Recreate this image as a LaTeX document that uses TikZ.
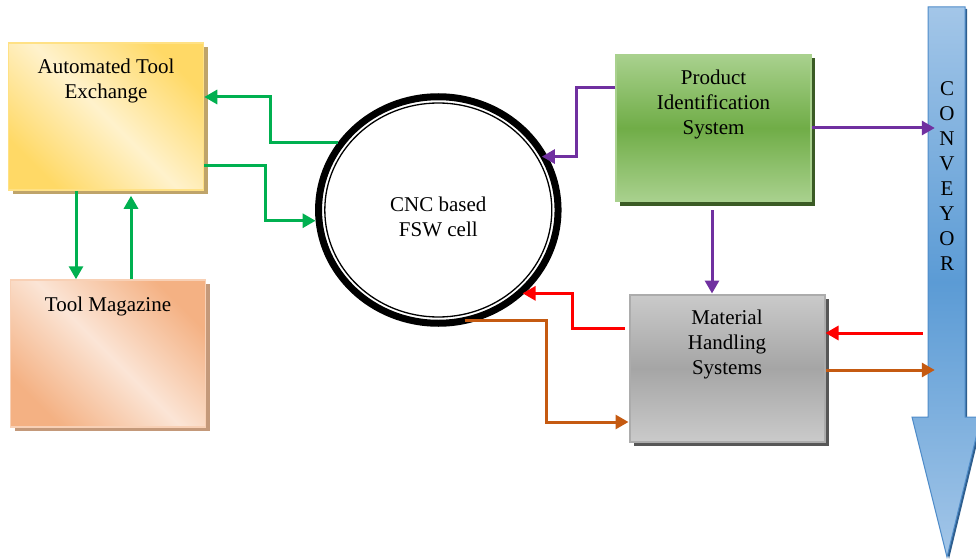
\documentclass[tikz,border=0pt]{standalone}
\usepackage{xcolor}
\usepackage{fontspec}
\setmainfont{Liberation Serif}
\usepackage{tikz}
\usetikzlibrary{arrows.meta,shadows,shapes.geometric,positioning}

\definecolor{atedark}{HTML}{FFD966}
\definecolor{atelight}{HTML}{FFF2CC}
\definecolor{ateshadow}{HTML}{BFA46A}
\definecolor{magdark}{HTML}{F4B183}
\definecolor{maglight}{HTML}{FBE5D6}
\definecolor{magshadow}{HTML}{C4997A}
\definecolor{pislight}{HTML}{A9D18E}
\definecolor{pisdark}{HTML}{70AD47}
\definecolor{pisshadow}{HTML}{3B5B25}
\definecolor{mhslight}{HTML}{CACACA}
\definecolor{mhsdark}{HTML}{A5A5A5}
\definecolor{mhsshadow}{HTML}{575757}
\definecolor{convlight}{HTML}{A3C6E8}
\definecolor{convdark}{HTML}{5B9BD5}
\definecolor{convline}{HTML}{4F8CC9}
\definecolor{convshadow}{HTML}{2E5E8E}
\definecolor{flowgreen}{HTML}{00B050}
\definecolor{flowpurple}{HTML}{7030A0}
\definecolor{flowred}{HTML}{FF0000}
\definecolor{flowbrown}{HTML}{C55A11}

\begin{document}
\begin{tikzpicture}[x=1pt,y=1pt]
  \tikzstyle{unit}=[draw,minimum width=195pt,minimum height=147pt,inner sep=0pt,line width=1.5pt]
  \tikzstyle{boxtext}=[align=center,inner sep=0pt,font=\fontsize{21}{25}\selectfont]
  \tikzstyle{flow}=[line width=3pt,-{Triangle[length=13pt,width=14pt]}]
  \useasboundingbox (0,0) rectangle (976,558);
  % left column
  \node[unit,draw=atedark!80,top color=atedark,bottom color=atedark,middle color=atelight,shading angle=-45,
        drop shadow={shadow xshift=4pt,shadow yshift=-4pt,fill=ateshadow,opacity=1}] (ate) at (106,441.5) {};
  \node[boxtext,below=16pt of ate.north] (atetext) {Automated Tool\\Exchange};
  \node[unit,draw=magdark!60,top color=magdark,bottom color=magdark,middle color=maglight,shading angle=-45,
        drop shadow={shadow xshift=4pt,shadow yshift=-4pt,fill=magshadow,opacity=1}] (mag) at (108,204.5) {};
  \node[boxtext,below=17pt of mag.north] (magtext) {Tool Magazine};
  % the cell
  \node[draw,ellipse,line width=7pt,minimum width=239.5pt,minimum height=226.5pt,fill=white,inner sep=0pt] (cell) at (438.3,348) {};
  \draw[line width=1.3pt] (cell.center) ellipse [x radius=113.5, y radius=107];
  \node[boxtext] (celltext) at ([yshift=-7pt]cell.center) {CNC based\\FSW cell};
  % right side
  \node[unit,draw=pislight,top color=pislight,bottom color=pislight,middle color=pisdark,
        drop shadow={shadow xshift=4pt,shadow yshift=-4pt,fill=pisshadow,opacity=1}] (pis) at (713.5,430) {};
  \node[boxtext,below=16pt of pis.north] (pistext) {Product\\Identification\\System};
  \node[unit,line width=2pt,draw=mhslight!85!black,top color=mhslight,bottom color=mhslight,middle color=mhsdark,
        drop shadow={shadow xshift=4pt,shadow yshift=-4pt,fill=mhsshadow,opacity=1}] (mhs) at (727,190) {};
  \node[boxtext,below=16pt of mhs.north] (mhstext) {Material\\Handling\\Systems};
  % conveyor
  \draw[line width=1pt,draw=convline,top color=convlight,bottom color=convlight,middle color=convdark,
        drop shadow={shadow xshift=2pt,shadow yshift=-2pt,fill=convshadow,opacity=1}]
        (928,551) -- (965,551) -- (965,141) -- (981,141) -- (947,1) -- (912,141) -- (928,141) -- cycle;
  \node[boxtext,text width=24pt] (conv) at (947,382) {C\\O\\N\\V\\E\\Y\\O\\R};
  % tool flow
  \draw[flow,flowgreen] (cell.146) -- ++(-67,0) |- ([yshift=19.5pt]ate.east);
  \draw[flow,flowgreen] ([yshift=-48.5pt]ate.east) -- ++(61,0) |- (cell.185);
  \draw[flow,flowgreen] ([xshift=-30pt]ate.south) -- ([xshift=-30pt]ate.south |- mag.north);
  \draw[flow,flowgreen,shorten >=5pt] ([xshift=25pt]ate.south |- mag.north) -- ([xshift=25pt]ate.south);
  % identification
  \draw[flow,flowpurple,shorten >=-6pt] ([yshift=40pt]pis.west) -- ++(-39,0) |- (cell.26);
  \draw[flow,flowpurple] (pis.east) -- (pis.east -| conv.west);
  \draw[flow,flowpurple,shorten <=8pt] ([xshift=-1.5pt]pis.south) -- ([xshift=-1.5pt]pis.south |- mhs.north);
  % material flow
  \draw[flow,flowred,shorten >=-2pt] ([xshift=-4pt,yshift=40pt]mhs.west) -- ++(-52,0) |- (cell.-44);
  \draw[flow,flowred] ([xshift=-12pt,yshift=35pt]mhs.east -| conv.west) -- ([yshift=35pt]mhs.east);
  \draw[flow,flowbrown] ([yshift=4pt]cell.-77) -- ++(82,0) |- ([yshift=-54pt]mhs.west);
  \draw[flow,flowbrown] ([yshift=-2pt]mhs.east) -- ([yshift=-2pt]mhs.east -| conv.west);
\end{tikzpicture}
\end{document}
